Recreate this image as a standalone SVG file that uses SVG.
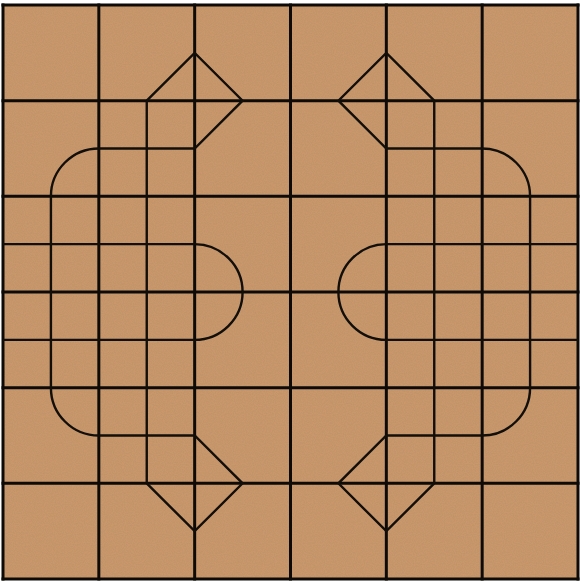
<svg xmlns="http://www.w3.org/2000/svg" width="580" height="581" viewBox="0 0 580 581">
  <defs>
    <filter id="grain" x="0" y="0" width="100%" height="100%">
      <feTurbulence type="fractalNoise" baseFrequency="0.9" numOctaves="2" seed="3" result="n"/>
      <feColorMatrix type="matrix" values="0 0 0 0 0.35  0 0 0 0 0.22  0 0 0 0 0.12  0 0 0 -1.2 0.75"/>
    </filter>
    <style>
      .grid { fill: none; stroke: #0d0a07; stroke-width: 3; stroke-linecap: square; }
      .inner { fill: none; stroke: #120e0a; stroke-width: 2.4; stroke-linejoin: miter; }
    </style>
  </defs>
  <rect width="580" height="581" fill="#ffffff"/>
  <g id="board">
    <rect x="3" y="5" width="575.3" height="574" fill="#C8976B"/>
    <rect x="3" y="5" width="575.3" height="574" filter="url(#grain)" opacity="0.35"/>
  </g>
  <g transform="translate(3,5) scale(0.99826,0.99653)">
    <g id="grid-lines" class="grid">
      <path d="M0 0 V576 M96 0 V576 M192 0 V576 M288 0 V576 M384 0 V576 M480 0 V576 M576 0 V576"/>
      <path d="M0 0 H576 M0 96 H576 M0 192 H576 M0 288 H576 M0 384 H576 M0 480 H576 M0 576 H576"/>
    </g>
    <g id="left-pattern" class="inner">
      <path d="M48 192 V384"/>
      <path d="M144 96 V480"/>
      <path d="M0 240 H192 M0 336 H192"/>
      <path d="M192 240 A48 48 0 0 1 192 336"/>
      <path d="M48 192 A48 48 0 0 1 96 144 H192 L240 96 L192 48 L144 96"/>
      <path d="M48 384 A48 48 0 0 0 96 432 H192 L240 480 L192 528 L144 480"/>
    </g>
    <g id="right-pattern" class="inner" transform="translate(576,0) scale(-1,1)">
      <path d="M48 192 V384"/>
      <path d="M144 96 V480"/>
      <path d="M0 240 H192 M0 336 H192"/>
      <path d="M192 240 A48 48 0 0 1 192 336"/>
      <path d="M48 192 A48 48 0 0 1 96 144 H192 L240 96 L192 48 L144 96"/>
      <path d="M48 384 A48 48 0 0 0 96 432 H192 L240 480 L192 528 L144 480"/>
    </g>
  </g>
</svg>
